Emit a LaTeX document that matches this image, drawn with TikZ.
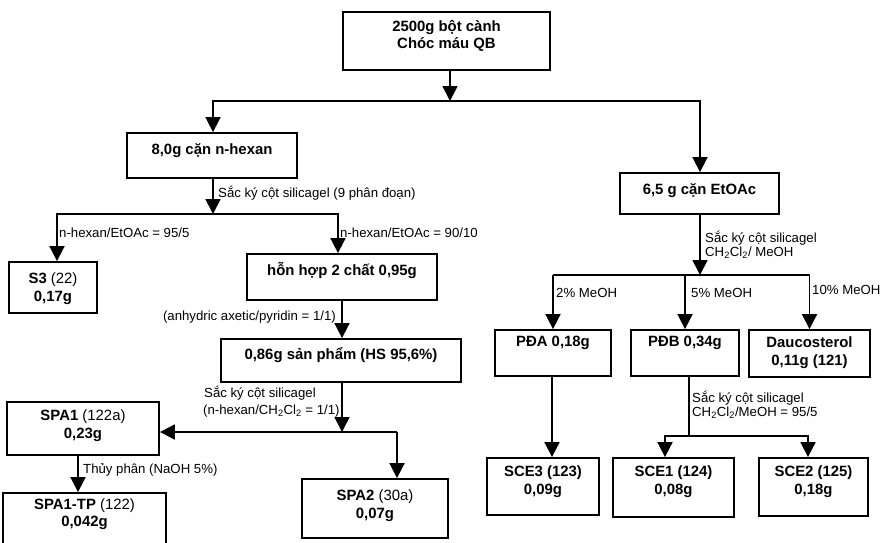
\documentclass[tikz,border=0pt]{standalone}
\usepackage{fontspec}
\setmainfont{Liberation Sans}
\usetikzlibrary{arrows.meta,calc}
\begin{document}
\begin{tikzpicture}[x=1pt,y=-1pt,
  box/.style={draw,line width=1.8pt,inner sep=0pt},
  ln/.style={line width=1.7pt},
  arr/.style={line width=1.7pt,-{Triangle[width=15pt,length=15pt]}},
  btxt/.style={font=\fontsize{14.9}{17.5}\selectfont\bfseries,align=center,inner sep=0pt},
  lbl/.style={font=\fontsize{13.2}{15}\selectfont,anchor=west,inner sep=0pt}]
\useasboundingbox (0,0) rectangle (883,542);
% boxes
\node[box,minimum width=207,minimum height=58] (top) at (446.5,41) {};
\node[btxt] (toptx) at (446.5,36) {2500g bột cành\\Chóc máu QB};
\node[box,minimum width=170,minimum height=45] (hexan) at (212,155.5) {};
\node[btxt] (hexantx) at (212,151) {8,0g cặn n-hexan};
\node[box,minimum width=159,minimum height=41] (etoac) at (699.5,193.5) {};
\node[btxt] (etoactx) at (699.5,191) {6,5 g cặn EtOAc};
\node[box,minimum width=88,minimum height=51] (s3) at (53,287.5) {};
\node[btxt] (s3tx) at (53,288.5) {S3 \mdseries(22)\\0,17g};
\node[box,minimum width=190,minimum height=46] (hh) at (342,277) {};
\node[btxt] (hhtx) at (342,270) {hỗn hợp 2 chất 0,95g};
\node[box,minimum width=240,minimum height=43] (sp) at (341,360.5) {};
\node[btxt] (sptx) at (341,355) {0,86g sản phẩm (HS 95,6\%)};
\node[box,minimum width=152,minimum height=53] (spa1) at (83,428.5) {};
\node[btxt] (spa1tx) at (83,425.5) {SPA1 \mdseries(122a)\\0,23g};
\node[box,minimum width=163,minimum height=59] (spa1tp) at (84.5,522.5) {};
\node[btxt] (spa1tptx) at (84.5,514) {SPA1-TP \mdseries(122)\\0,042g};
\node[box,minimum width=146,minimum height=59] (spa2) at (375,508.5) {};
\node[btxt] (spa2tx) at (375,505.5) {SPA2 \mdseries(30a)\\0,07g};
\node[box,minimum width=116,minimum height=46] (pda) at (553,353) {};
\node[btxt] (pdatx) at (553,343) {PĐA 0,18g};
\node[box,minimum width=108,minimum height=46] (pdb) at (685,353) {};
\node[btxt] (pdbtx) at (685,343) {PĐB 0,34g};
\node[box,minimum width=121,minimum height=47] (dau) at (809.5,353.5) {};
\node[btxt] (dautx) at (809.5,352.5) {Daucosterol\\0,11g (121)};
\node[box,minimum width=112,minimum height=57] (sce3) at (543,486.5) {};
\node[btxt] (sce3tx) at (543,481.5) {SCE3 (123)\\0,09g};
\node[box,minimum width=121,minimum height=59] (sce1) at (673.5,487.5) {};
\node[btxt] (sce1tx) at (673.5,481.5) {SCE1 (124)\\0,08g};
\node[box,minimum width=109,minimum height=58] (sce2) at (813.5,487) {};
\node[btxt] (sce2tx) at (813.5,481.5) {SCE2 (125)\\0,18g};
% junctions
\coordinate (j1) at (450,101);
\coordinate (j2) at (213,214);
\coordinate (j4) at (397,432);
\coordinate (j3) at (342,432);
\coordinate (j5) at (700,275);
\coordinate (j6) at (689,436);
% connectors
\draw[arr] (top.south -| j1) -- (j1);
\draw[arr] (j1) -| (hexan.north -| j2);
\draw[arr] (j1) -| (etoac.north -| j5);
\draw[arr] (hexan.south -| j2) -- (j2);
\draw[arr] (j2) -| ([xshift=4pt]s3.north);
\draw[arr] (j2) -| ([xshift=-4pt]hh.north);
\draw[arr] (hh.south) -- (hh.south |- sp.north);
\draw[arr] (sp.south -| j3) -- (j3);
\draw[arr] (j4) -- (j4 -| spa1.east);
\draw[arr] (j4) -- (j4 |- spa2.north);
\draw[arr] ([xshift=-5pt]spa1.south) -- ([xshift=-6.5pt]spa1tp.north);
\draw[arr] (etoac.south -| j5) -- (j5);
\draw[ln] (j5 -| pda.north) -- (j5 -| dau.north);
\draw[arr] (j5 -| pda.north) -- (pda.north);
\draw[arr] (j5 -| pdb.north) -- (pdb.north);
\draw[arr] (j5 -| dau.north) -- (dau.north);
\draw[arr] ([xshift=-1pt]pda.south) -- ([xshift=9pt]sce3.north);
\draw[ln] (pdb.south -| j6) -- (j6);
\draw[arr] (j6) -| ([xshift=-8.5pt]sce1.north);
\draw[arr] (j6) -| ([xshift=-5.5pt]sce2.north);
% labels
\node[lbl] (l1) at (218,193) {Sắc ký cột silicagel (9 phân đoạn)};
\node[lbl] (l2) at (59,233) {n-hexan/EtOAc = 95/5};
\node[lbl] (l3) at (340,233) {n-hexan/EtOAc = 90/10};
\node[lbl,anchor=east] (l4) at (336,317) {(anhydric axetic/pyridin = 1/1)};
\node[lbl] (l5) at (204,393) {Sắc ký cột silicagel};
\node[lbl] (l6) at (203,411) {(n-hexan/CH\textsubscript{2}Cl\textsubscript{2} = 1/1)};
\node[lbl] (l7) at (83,470) {Thủy phân (NaOH 5\%)};
\node[lbl] (l8) at (705,238) {Sắc ký cột silicagel};
\node[lbl] (l9) at (705,253) {CH\textsubscript{2}Cl\textsubscript{2}/ MeOH};
\node[lbl] (l10) at (556,293) {2\% MeOH};
\node[lbl] (l11) at (691,293) {5\% MeOH};
\node[lbl] (l12) at (812,290) {10\% MeOH};
\node[lbl] (l13) at (692,398) {Sắc ký cột silicagel};
\node[lbl] (l14) at (692,413) {CH\textsubscript{2}Cl\textsubscript{2}/MeOH = 95/5};
\end{tikzpicture}
\end{document}
